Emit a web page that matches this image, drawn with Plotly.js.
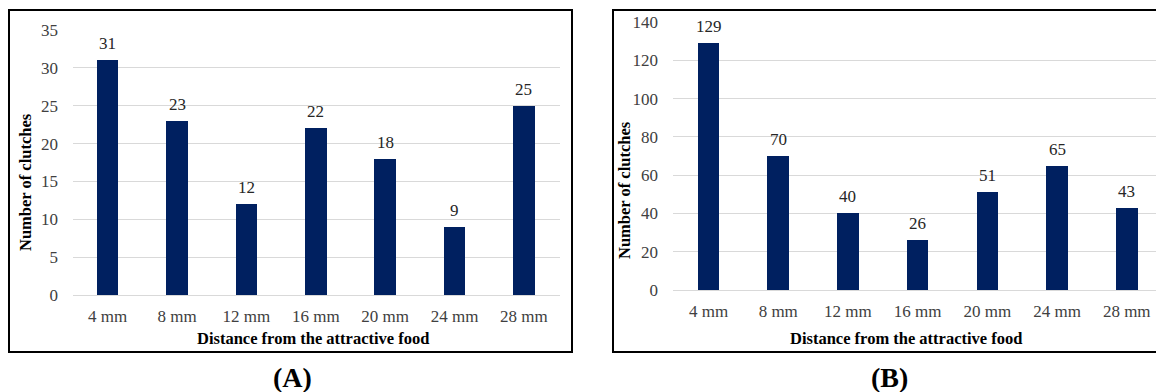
<!DOCTYPE html>
<html>
<head>
<meta charset="utf-8">
<script src="https://cdn.plot.ly/plotly-3.0.1.min.js"></script>
<style>html,body{margin:0;padding:0;background:#fff;}#chart{width:1156px;height:392px;}</style>
</head>
<body>
<div id="chart"></div>
<script>
const categories = ["4 mm", "8 mm", "12 mm", "16 mm", "20 mm", "24 mm", "28 mm"];
const valuesA = [31, 23, 12, 22, 18, 9, 25];
const valuesB = [129, 70, 40, 26, 51, 65, 43];
const yTicksA = [0, 5, 10, 15, 20, 25, 30, 35];
const yTicksB = [0, 20, 40, 60, 80, 100, 120, 140];
const xTitle = "Distance from the attractive food";
const yTitle = "Number of clutches";
const panelLabels = ["(A)", "(B)"];

const W = 1156, H = 392;
const px = v => v / W;
const py = v => 1 - v / H;

const serif = "Liberation Serif, Times New Roman, serif";
const barColor = "#002060";
const gridColor = "#d9d9d9";
const tickFont = {family: serif, size: 17, color: "#404040"};
const labelFont = {family: serif, size: 17, color: "#262626"};

const traces = [
  {type: "bar", x: categories, y: valuesA, xaxis: "x", yaxis: "y", marker: {color: barColor}, width: 0.31, hoverinfo: "none"},
  {type: "bar", x: categories, y: valuesB, xaxis: "x2", yaxis: "y2", marker: {color: barColor}, width: 0.31, hoverinfo: "none"}
];

const annotations = [];
categories.forEach((c, i) => {
  annotations.push({xref: "x", yref: "y", x: c, y: valuesA[i], text: String(valuesA[i]), showarrow: false, yanchor: "bottom", yshift: 5, font: labelFont});
  annotations.push({xref: "x2", yref: "y2", x: c, y: valuesB[i], text: String(valuesB[i]), showarrow: false, yanchor: "bottom", yshift: 5, font: labelFont});
});
const titleFont = {family: serif, size: 16.5, color: "#000"};
annotations.push({xref: "paper", yref: "paper", x: px(313), y: py(338), text: "<b>" + xTitle + "</b>", showarrow: false, font: titleFont, xanchor: "center", yanchor: "middle"});
annotations.push({xref: "paper", yref: "paper", x: px(906), y: py(338), text: "<b>" + xTitle + "</b>", showarrow: false, font: titleFont, xanchor: "center", yanchor: "middle"});
annotations.push({xref: "paper", yref: "paper", x: px(25), y: py(182), text: "<b>" + yTitle + "</b>", showarrow: false, textangle: -90, font: titleFont, xanchor: "center", yanchor: "middle"});
annotations.push({xref: "paper", yref: "paper", x: px(625), y: py(190), text: "<b>" + yTitle + "</b>", showarrow: false, textangle: -90, font: titleFont, xanchor: "center", yanchor: "middle"});
annotations.push({xref: "paper", yref: "paper", x: px(292), y: py(377), text: "<b>" + panelLabels[0] + "</b>", showarrow: false, font: {family: serif, size: 28, color: "#000"}, xanchor: "center", yanchor: "middle"});
annotations.push({xref: "paper", yref: "paper", x: px(889), y: py(377), text: "<b>" + panelLabels[1] + "</b>", showarrow: false, font: {family: serif, size: 28, color: "#000"}, xanchor: "center", yanchor: "middle"});

const shapes = [
  {type: "rect", xref: "paper", yref: "paper", x0: px(9), x1: px(572), y0: py(352), y1: py(10), line: {color: "#000", width: 2}},
  {type: "rect", xref: "paper", yref: "paper", x0: px(613), x1: px(1170), y0: py(352), y1: py(10), line: {color: "#000", width: 2}}
];

const layout = {
  width: W, height: H,
  margin: {l: 0, r: 0, t: 0, b: 0, pad: 0},
  paper_bgcolor: "#fff", plot_bgcolor: "rgba(0,0,0,0)",
  showlegend: false,
  bargap: 0,
  xaxis: {domain: [px(73), px(560)], anchor: "y", range: [-0.5, 6.52], showgrid: false, zeroline: false, showline: false, ticks: "", tickfont: tickFont, ticklabelstandoff: 9, fixedrange: true},
  yaxis: {domain: [py(295), py(30)], anchor: "x", range: [0, 35], tickvals: yTicksA, showgrid: true, gridcolor: gridColor, gridwidth: 1, zeroline: true, zerolinecolor: gridColor, zerolinewidth: 1, showline: false, ticks: "", tickfont: tickFont, ticklabelstandoff: 14, fixedrange: true},
  xaxis2: {domain: [px(673), 1], anchor: "y2", range: [-0.51, 6.42], showgrid: false, zeroline: false, showline: false, ticks: "", tickfont: tickFont, ticklabelstandoff: 9, fixedrange: true},
  yaxis2: {domain: [py(290), py(22)], anchor: "x2", range: [0, 140], tickvals: yTicksB, showgrid: true, gridcolor: gridColor, gridwidth: 1, zeroline: true, zerolinecolor: gridColor, zerolinewidth: 1, showline: false, ticks: "", tickfont: tickFont, ticklabelstandoff: 14, fixedrange: true},
  annotations: annotations,
  shapes: shapes
};

Plotly.newPlot("chart", traces, layout, {displayModeBar: false, staticPlot: true});
</script>
</body>
</html>
